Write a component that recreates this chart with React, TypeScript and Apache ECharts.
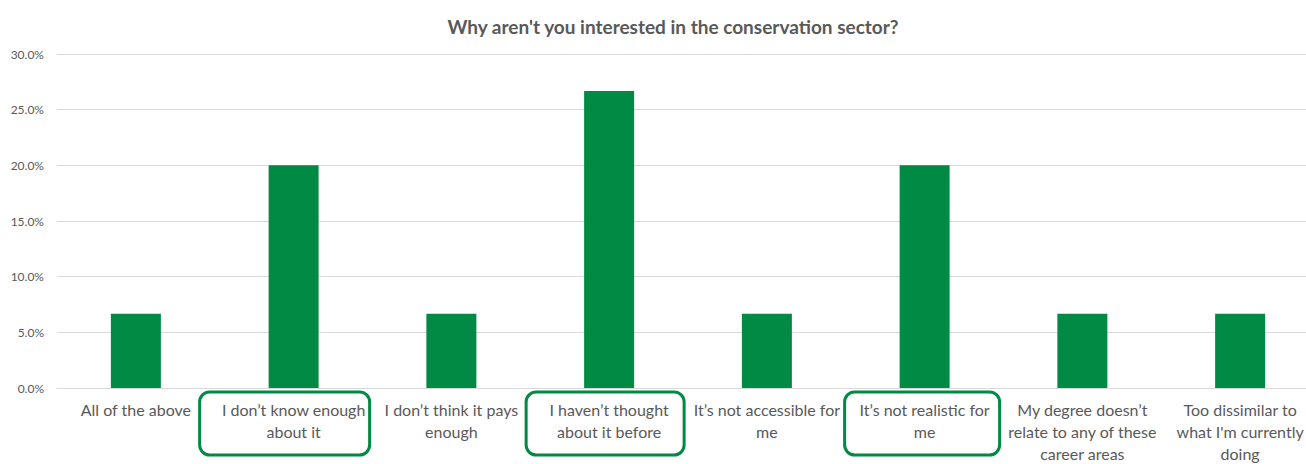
import React, { useEffect, useRef } from "react";
import * as echarts from "echarts";

const title = "Why aren't you interested in the conservation sector?";
const categories = [
  "All of the above",
  "I don’t know enough\nabout it",
  "I don’t think it pays\nenough",
  "I haven’t thought\nabout it before",
  "It’s not accessible for\nme",
  "It’s not realistic for\nme",
  "My degree doesn’t\nrelate to any of these\ncareer areas",
  "Too dissimilar to\nwhat I'm currently\ndoing",
];
const values = [6.67, 20.0, 6.67, 26.67, 6.67, 20.0, 6.67, 6.67];
const highlighted = [1, 3, 5];
const yTicks = [0, 5, 10, 15, 20, 25, 30];

const GREEN = "#008A44";
const TEXT = "#595959";
const FONT = "Lato, 'Open Sans', sans-serif";

export default function App() {
  const ref = useRef<HTMLDivElement>(null);
  useEffect(() => {
    document.body.style.margin = "0";
    document.body.style.overflow = "hidden";
    const chart = echarts.init(ref.current!, null, { renderer: "svg" });
    chart.setOption({
      animation: false,
      backgroundColor: "#ffffff",
      title: {
        text: title,
        left: 668,
        textAlign: "center",
        top: 12,
        textStyle: { fontSize: 19, fontWeight: "bold", color: TEXT, fontFamily: FONT },
      },
      grid: { left: 57, right: 0, top: 54, bottom: 63, containLabel: false },
      xAxis: {
        type: "category",
        data: categories,
        axisLine: { lineStyle: { color: "#d9d9d9", width: 1 } },
        axisTick: { show: false },
        axisLabel: {
          interval: 0,
          color: TEXT,
          fontSize: 16,
          fontFamily: FONT,
          lineHeight: 22,
          margin: 10,
        },
      },
      yAxis: {
        type: "value",
        min: yTicks[0],
        max: yTicks[yTicks.length - 1],
        interval: 5,
        axisLine: { show: false },
        axisTick: { show: false },
        splitLine: { lineStyle: { color: "#d9d9d9", width: 1 } },
        axisLabel: {
          color: TEXT,
          fontSize: 12,
          fontFamily: FONT,
          margin: 13,
          formatter: (v: number) => v.toFixed(1) + "%",
        },
      },
      series: [
        {
          type: "bar",
          data: values,
          barWidth: 50,
          itemStyle: { color: GREEN },
        },
      ],
    });
    const boxes = [
      { dx: -94, w: 170 },
      { dx: -83, w: 158 },
      { dx: -80, w: 155 },
    ];
    const baseY = chart.convertToPixel({ yAxisIndex: 0 }, 0) as number;
    chart.setOption({
      graphic: highlighted.map((ci, i) => {
        const cx = chart.convertToPixel({ xAxisIndex: 0 }, ci) as number;
        return {
          type: "rect",
          shape: { x: cx + boxes[i].dx, y: baseY + 4, width: boxes[i].w, height: 63, r: 10 },
          style: { fill: "none", stroke: GREEN, lineWidth: 3 },
          z: 10,
        };
      }),
    });
    return () => chart.dispose();
  }, []);
  return (
    <div
      ref={ref}
      style={{ position: "absolute", left: 0, top: 0, width: 1319, height: 464 }}
    />
  );
}
